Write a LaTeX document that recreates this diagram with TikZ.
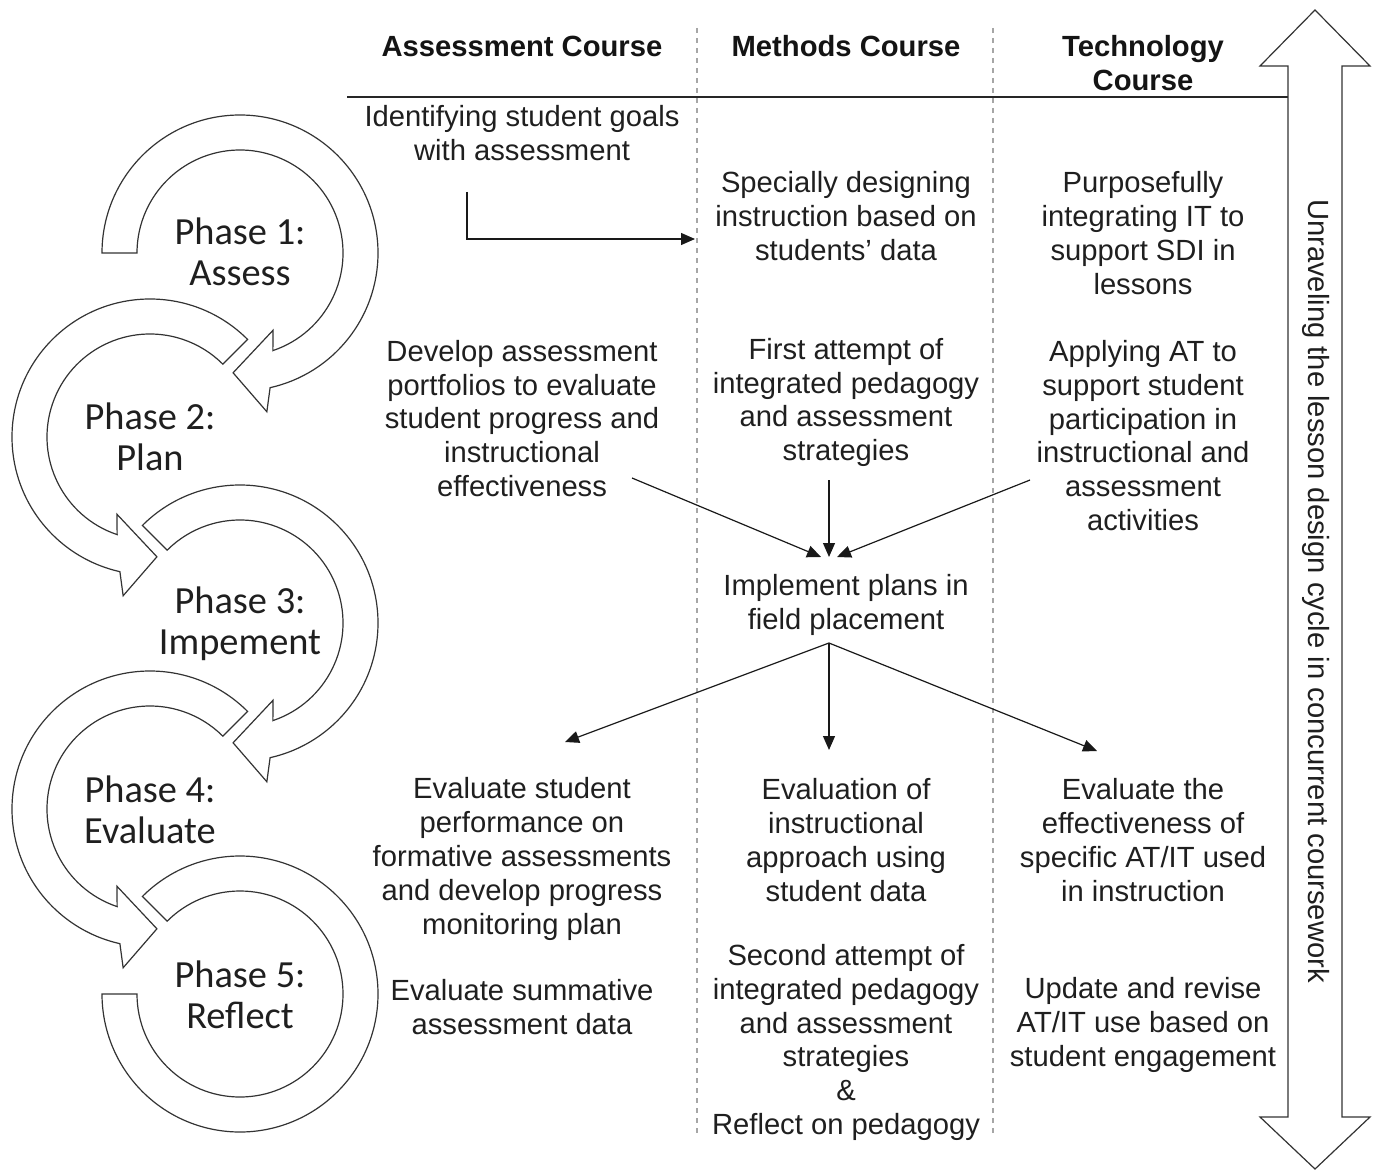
\documentclass[tikz,border=0pt]{standalone}
\usepackage{fontspec}
\setmainfont{Liberation Sans}
\newfontfamily\calfont{Carlito}
\usetikzlibrary{arrows.meta}
\begin{document}
\begin{tikzpicture}[x=0.5pt,y=-0.5pt,
  txt/.style={align=center, font=\fontsize{14.6}{16.9}\selectfont, inner sep=0pt, text=black!88},
  hdr/.style={align=center, font=\fontsize{14.6}{16.9}\selectfont\bfseries, inner sep=0pt, text=black!92},
  phase/.style={align=center, font=\calfont\fontsize{19.2}{20.7}\selectfont, inner sep=0pt, text=black!88},
  ring/.style={draw=black!80, fill=white, line width=0.6pt, line join=miter},
  conn/.style={draw=black!90, line width=0.6pt, -{Triangle[length=7pt,width=6pt]}},
  lane/.style={draw=black!35, line width=0.6pt, dash pattern=on 2.5pt off 2.5pt},
]
\useasboundingbox (0,0) rectangle (1379,1171);

% lane separators
\draw[lane] (697,28) -- (697,1135);
\draw[lane] (993,28) -- (993,1135);

% headers
\node[hdr] (h1) at (522,46) {Assessment Course};
\node[hdr] (h2) at (846,46) {Methods Course};
\node[hdr] (h3) at (1143,63) {Technology\\Course};
\draw[line width=0.6pt, black!85] (347,97) -- (1288,97);

% double arrow
\draw[ring] (1315,10) -- (1370,66) -- (1342,66) -- (1342,1117) -- (1370,1117)
  -- (1315,1169) -- (1260,1117) -- (1288,1117) -- (1288,66) -- (1260,66) -- cycle;
\node[txt, rotate=-90] (vlab) at (1316,591) {Unraveling the lesson design cycle in concurrent coursework};

% circular arrows
\draw[ring, shift={(240,253)}] (180:138) arc[start angle=180, end angle=437.4, radius=138]
  -- (440.4:161) -- (453.3:120) -- (426.8:84) -- (431.4:103)
  arc[start angle=431.4, end angle=180, radius=103] -- cycle;
\draw[ring, shift={(150,437)}] (315:138) arc[start angle=315, end angle=102.6, radius=138]
  -- (99.6:161) -- (86.7:120) -- (113.2:84) -- (108.6:103)
  arc[start angle=108.6, end angle=315, radius=103] -- cycle;
\draw[ring, shift={(240,623)}] (225:138) arc[start angle=225, end angle=437.4, radius=138]
  -- (440.4:161) -- (453.3:120) -- (426.8:84) -- (431.4:103)
  arc[start angle=431.4, end angle=225, radius=103] -- cycle;
\draw[ring, shift={(150,809)}] (315:138) arc[start angle=315, end angle=102.6, radius=138]
  -- (99.6:161) -- (86.7:120) -- (113.2:84) -- (108.6:103)
  arc[start angle=108.6, end angle=315, radius=103] -- cycle;
\draw[ring, shift={(240,994)}] (225:138) arc[start angle=225, end angle=540, radius=138]
  -- (540:103) arc[start angle=540, end angle=225, radius=103] -- cycle;

\node[phase] (p1) at (240,252) {Phase 1:\\Assess};
\node[phase] (p2) at (150,437) {Phase 2:\\Plan};
\node[phase] (p3) at (240,624) {Phase 3:\\Impement};
\node[phase] (p4) at (150,810) {Phase 4:\\Evaluate};
\node[phase] (p5) at (240,995) {Phase 5:\\Reflect};

% lane texts
\node[txt] (t1) at (522,133) {Identifying student goals\\with assessment};
\node[txt] (m1) at (846,216) {Specially designing\\instruction based on\\students’ data};
\node[txt] (k1) at (1143,233) {Purposefully\\integrating IT to\\support SDI in\\lessons};
\node[txt] (t2) at (522,418.5) {Develop assessment\\portfolios to evaluate\\student progress and\\instructional\\effectiveness};
\node[txt] (m2) at (846,402.5) {First attempt of\\integrated pedagogy\\and assessment\\strategies};
\node[txt] (k2) at (1143,435.5) {Applying AT to\\support student\\participation in\\instructional and\\assessment\\activities};
\node[txt] (imp) at (846,605) {Implement plans in\\field placement};
\node[txt] (t3) at (522,859) {Evaluate student\\performance on\\formative assessments\\and develop progress\\monitoring plan};
\node[txt] (m3) at (846,840) {Evaluation of\\instructional\\approach using\\student data};
\node[txt] (k3) at (1143,840) {Evaluate the\\effectiveness of\\specific AT/IT used\\in instruction};
\node[txt] (t4) at (522,1007) {Evaluate summative\\assessment data};
\node[txt] (m4) at (846,1042.5) {Second attempt of\\integrated pedagogy\\and assessment\\strategies\\\&\\Reflect on pedagogy};
\node[txt] (k4) at (1143,1025) {Update and revise\\AT/IT use based on\\student engagement};

% connector end points
\coordinate (t1o) at (467,192);
\coordinate (m1i) at (695,239);
\coordinate (t2o) at (632,478);
\coordinate (m2o) at (829,480);
\coordinate (k2o) at (1030,480);
\coordinate (impL) at (821,557);
\coordinate (impM) at (829,557);
\coordinate (impR) at (837,557);
\coordinate (impo) at (829,643);
\coordinate (t3i) at (565,742);
\coordinate (m3i) at (829,750);
\coordinate (k3i) at (1097,751);

\draw[conn] (t1o) |- (m1i);
\draw[conn] (t2o) -- (impL);
\draw[conn] (m2o) -- (impM);
\draw[conn] (k2o) -- (impR);
\draw[conn] (impo) -- (t3i);
\draw[conn] (impo) -- (m3i);
\draw[conn] (impo) -- (k3i);
\end{tikzpicture}
\end{document}
